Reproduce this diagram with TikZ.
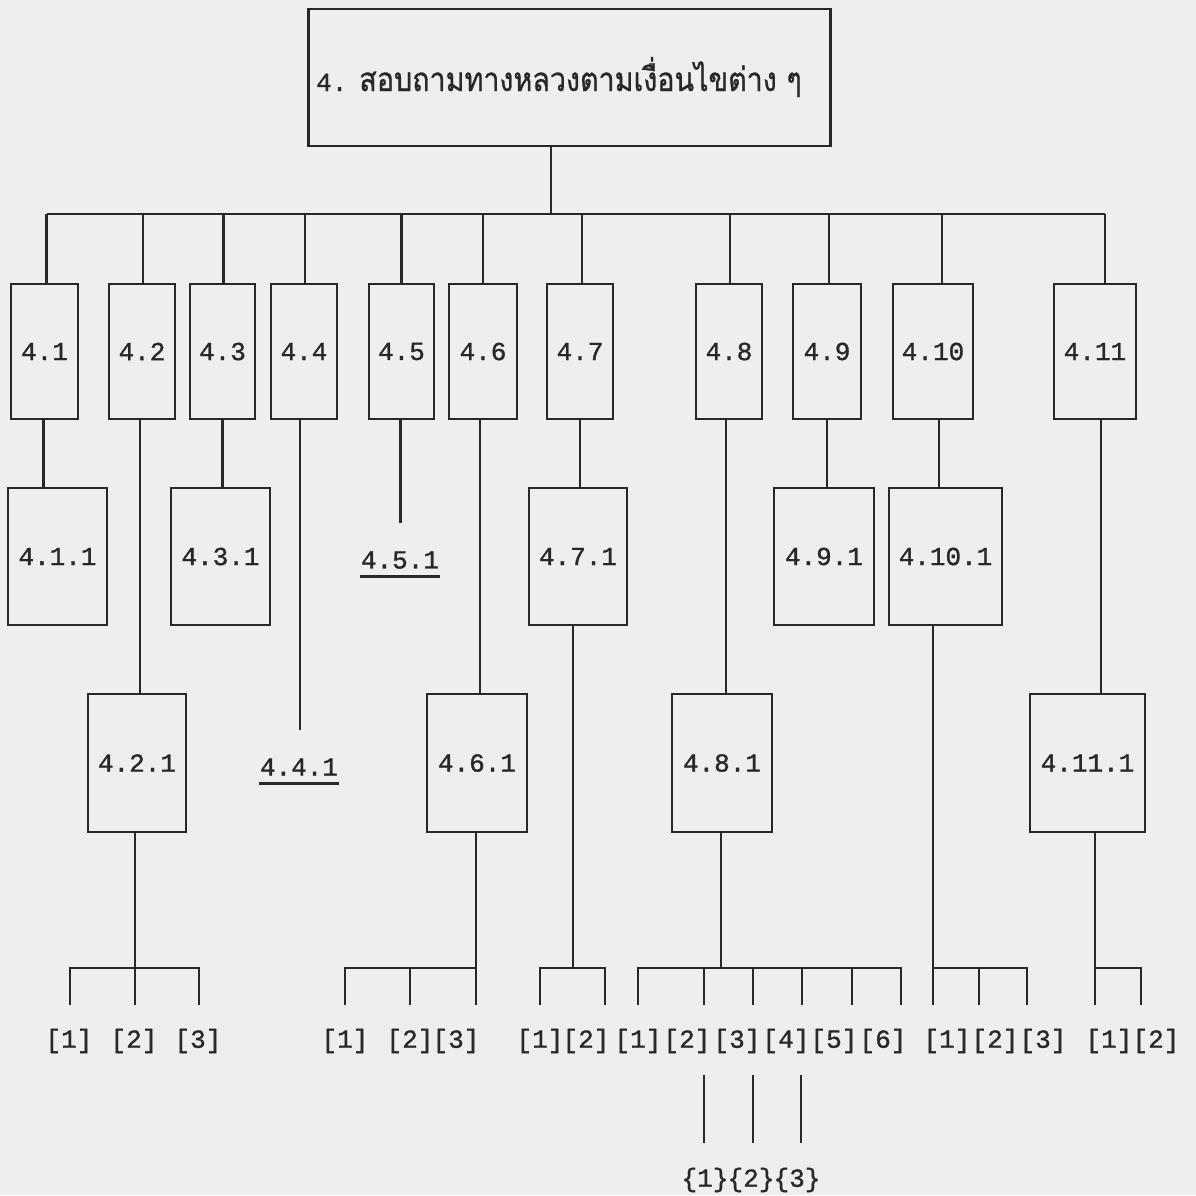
\documentclass[tikz,border=0pt]{standalone}
\usepackage{graphicx}
\usepackage{fontspec}
\newfontfamily\tw[FakeBold=1.2]{Liberation Mono}
\newfontfamily\thaifont[Script=Thai,FakeBold=1]{Loma}
\definecolor{paper}{RGB}{238,238,236}
\definecolor{ink}{RGB}{40,40,40}
\begin{document}
\begin{tikzpicture}[x=1pt,y=-1pt,
  line width=2.3pt, color=ink,
  box/.style={draw=ink, line width=2.5pt, inner sep=0pt, text=ink,
    font=\tw\fontsize{26}{30}\selectfont},
  rowa/.style={box, minimum height=135pt},
  rowb/.style={box, minimum height=137pt},
  rowc/.style={box, minimum height=138pt},
  lbl/.style={inner sep=0pt, text=ink, font=\tw\fontsize{26}{30}\selectfont},
  uline/.style={line width=2.5pt}
]
\fill[paper] (0,0) rectangle (1196,1195);
\useasboundingbox (0,0) rectangle (1196,1195);

% top box
\node[box, minimum width=522pt, minimum height=137pt] (top) at (569.5,77.5) {};
\node[lbl, anchor=base west] (toptext) at (315,91)
  {4.\hspace{12pt}\scalebox{0.868}[1]{\thaifont\fontsize{33}{37}\selectfont สอบถามทางหลวงตามเงื่อนไขต่าง ๆ}};

% bus
\coordinate (bus) at (551,214);
\draw ([xshift=-18.5pt]top.south) -- ([xshift=-18.5pt]top.south |- bus);

% row 1
\node[rowa, minimum width=67pt] (b1)  at (44.5,351.5) {4.1};
\node[rowa, minimum width=66pt] (b2)  at (142,351.5)  {4.2};
\node[rowa, minimum width=65pt] (b3)  at (222.5,351.5) {4.3};
\node[rowa, minimum width=66pt] (b4)  at (304,351.5)  {4.4};
\node[rowa, minimum width=65pt] (b5)  at (401.5,351.5) {4.5};
\node[rowa, minimum width=68pt] (b6)  at (483,351.5)  {4.6};
\node[rowa, minimum width=66pt] (b7)  at (580,351.5)  {4.7};
\node[rowa, minimum width=66pt] (b8)  at (729,351.5)  {4.8};
\node[rowa, minimum width=68pt] (b9)  at (827,351.5)  {4.9};
\node[rowa, minimum width=80pt] (b10) at (933,351.5)  {4.10};
\node[rowa, minimum width=82pt] (b11) at (1095,351.5) {4.11};

\draw ([xshift=2pt]b1.north |- bus) -- ([xshift=10pt]b11.north |- bus);
\foreach \n/\d in {b1/2, b2/1, b3/1, b4/1, b5/0, b6/0, b7/2, b8/1, b9/2, b10/9, b11/10}
  \draw ([xshift=\d pt]\n.north) -- ([xshift=\d pt]\n.north |- bus);

% row 2
\node[rowb, minimum width=99pt]  (c1)  at (57.5,556.5)  {4.1.1};
\node[rowb, minimum width=99pt]  (c3)  at (220.5,556.5) {4.3.1};
\node[lbl] (c5) at (400,560) {4.5.1};
\node[rowb, minimum width=98pt]  (c7)  at (578,556.5)   {4.7.1};
\node[rowb, minimum width=100pt] (c9)  at (824,556.5)   {4.9.1};
\node[rowb, minimum width=113pt] (c10) at (945.5,556.5) {4.10.1};

\draw ([xshift=-1pt]b1.south) -- ([xshift=-1pt]b1.south |- c1.north);
\draw (b3.south) -- (b3.south |- c3.north);
\draw[shorten >=27pt] ([xshift=-1pt]b5.south) -- ([xshift=-1pt]b5.south |- c5.north);
\draw (b7.south) -- (b7.south |- c7.north);
\draw (b9.south) -- (b9.south |- c9.north);
\draw ([xshift=6pt]b10.south) -- ([xshift=6pt]b10.south |- c10.north);
\draw[uline] ([yshift=-8pt]c5.base west) -- ([yshift=-8pt]c5.base east);

% row 3
\node[rowc, minimum width=98pt]  (d2)  at (137,763)    {4.2.1};
\node[lbl] (d4) at (299,767) {4.4.1};
\node[rowc, minimum width=100pt] (d6)  at (477,763)    {4.6.1};
\node[rowc, minimum width=100pt] (d8)  at (722,763)    {4.8.1};
\node[rowc, minimum width=115pt] (d11) at (1087.5,763) {4.11.1};

\draw ([xshift=-2pt]b2.south) -- ([xshift=-2pt]b2.south |- d2.north);
\draw[shorten >=27pt] ([xshift=-4pt]b4.south) -- ([xshift=-4pt]b4.south |- d4.north);
\draw ([xshift=-3pt]b6.south) -- ([xshift=-3pt]b6.south |- d6.north);
\draw ([xshift=-3pt]b8.south) -- ([xshift=-3pt]b8.south |- d8.north);
\draw ([xshift=6pt]b11.south) -- ([xshift=6pt]b11.south |- d11.north);
\draw[uline] ([yshift=-8pt]d4.base west) -- ([yshift=-8pt]d4.base east);

% bracket rows
\coordinate (hb) at (0,968);
\coordinate (lb) at (0,1005);
% stems
\draw ([xshift=-2pt]d2.south) -- ([xshift=-2pt]d2.south |- lb);
\draw ([xshift=-1pt]d6.south) -- ([xshift=-1pt]d6.south |- lb);
\draw ([xshift=-5pt]c7.south) -- ([xshift=-5pt]c7.south |- hb);
\draw ([xshift=-1pt]d8.south) -- ([xshift=-1pt]d8.south |- hb);
\draw ([xshift=-12.5pt]c10.south) -- ([xshift=-12.5pt]c10.south |- lb);
\draw ([xshift=7.5pt]d11.south) -- ([xshift=7.5pt]d11.south |- lb);
% horizontal bars and drops
\draw (70,1005) |- (199,968) -- (199,1005);
\draw (345,1005) |- (476,968);
\draw (410,968) -- (410,1005);
\draw (540,1005) |- (605,968) -- (605,1005);
\draw (638,1005) |- (901,968) -- (901,1005);
\foreach \x in {704,753,802,852} \draw (\x,968) -- (\x,1005);
\draw (933,968) -- (1027,968) -- (1027,1005);
\draw (979,968) -- (979,1005);
\draw (1095,968) -- (1141,968) -- (1141,1005);

% labels
\foreach \x/\t/\nm in {69/1/a1, 134/2/a2, 198/3/a3,
  345/1/f1, 410/2/f2, 456/3/f3,
  540/1/g1, 586/2/g2,
  638/1/h1, 687/2/h2, 737/3/h3, 786/4/h4, 834/5/h5, 883/6/h6,
  947/1/k1, 995/2/k2, 1043/3/k3,
  1109/1/m1, 1156/2/m2}
  \node[lbl] (\nm) at (\x,1041) {[\t]};

% sub items
\node[lbl] (s1) at (705,1180) {\{1\}};
\node[lbl] (s2) at (751,1180) {\{2\}};
\node[lbl] (s3) at (797,1180) {\{3\}};
\draw ([xshift=-1pt]s1.center) ++(0,-37) -- ++(0,-68);
\draw ([xshift=2pt]s2.center) ++(0,-37) -- ++(0,-68);
\draw ([xshift=4pt]s3.center) ++(0,-37) -- ++(0,-68);
\end{tikzpicture}
\end{document}
